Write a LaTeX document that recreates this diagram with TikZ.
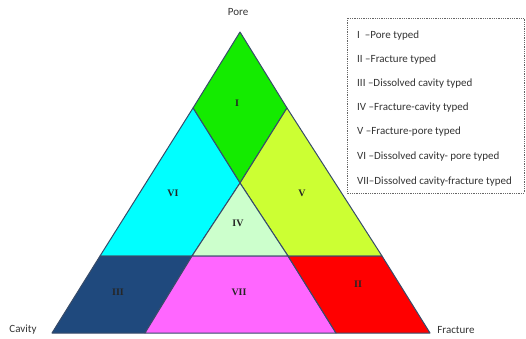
\documentclass[tikz,border=0pt]{standalone}
\usepackage{fontspec}
\setmainfont{Liberation Serif}
\newfontfamily\labelfont{Carlito}
\usetikzlibrary{positioning}
\definecolor{regionI}{RGB}{20,235,0}
\definecolor{regionII}{RGB}{255,0,0}
\definecolor{regionIII}{RGB}{31,73,125}
\definecolor{regionIV}{RGB}{204,255,204}
\definecolor{regionV}{RGB}{204,255,51}
\definecolor{regionVI}{RGB}{0,255,255}
\definecolor{regionVII}{RGB}{255,102,255}
\definecolor{edgecol}{RGB}{55,75,105}
\tikzset{
    region/.style={
        draw=edgecol,
        line width=1pt,
        line join=round
    },
    numeral/.style={
        font=\fontsize{10}{11}\selectfont\bfseries,
        text=black!85
    },
    corner/.style={
        font=\labelfont\fontsize{11}{12}\selectfont,
        text=black!80
    },
    legendtext/.style={
        anchor=west,
        inner sep=0pt,
        font=\labelfont\fontsize{11}{12}\selectfont,
        text=black!80
    },
    legendbox/.style={
        draw=black!60,
        densely dotted,
        line width=0.8pt
    }
}

\begin{document}
\begin{tikzpicture}[x=1pt,y=-1pt]

    \useasboundingbox (0,0) rectangle (526,338);

    % Corners of the triangle
    \coordinate (pore) at (240,32);
    \coordinate (cav) at (52,333);
    \coordinate (frac) at (430,333);

    % Points on the 25% lines
    \coordinate (lup) at (193,108);
    \coordinate (rup) at (287,108);
    \coordinate (mid) at (240,183);
    \coordinate (lmid) at (100,256);
    \coordinate (rmid) at (382,256);
    \coordinate (ilft) at (192,256);
    \coordinate (irgt) at (288,256);
    \coordinate (blft) at (145,333);
    \coordinate (brgt) at (336,333);

    % Regions
    \filldraw[region, fill=regionI] (pore) -- (lup) -- (mid) -- (rup) -- cycle;
    \filldraw[region, fill=regionVI] (lup) -- (mid) -- (ilft) -- (lmid) -- cycle;
    \filldraw[region, fill=regionV] (rup) -- (mid) -- (irgt) -- (rmid) -- cycle;
    \filldraw[region, fill=regionIV] (mid) -- (ilft) -- (irgt) -- cycle;
    \filldraw[region, fill=regionIII] (lmid) -- (ilft) -- (blft) -- (cav) -- cycle;
    \filldraw[region, fill=regionVII] (ilft) -- (irgt) -- (brgt) -- (blft) -- cycle;
    \filldraw[region, fill=regionII] (irgt) -- (rmid) -- (frac) -- (brgt) -- cycle;

    % Region numerals
    \node[numeral] (nI) at (237,103) {I};
    \node[numeral] (nII) at (358,284) {II};
    \node[numeral] (nIII) at (118,292) {III};
    \node[numeral] (nIV) at (238,223) {IV};
    \node[numeral] (nV) at (302,193) {V};
    \node[numeral] (nVI) at (173,193) {VI};
    \node[numeral] (nVII) at (239,292) {VII};

    % Corner labels
    \node[corner] (lpore) at (238,12) {Pore};
    \node[corner] (lcav) at (23,330) {Cavity};
    \node[corner] (lfrac) at (456,330) {Fracture};

    % Legend
    \draw[legendbox] (347,18) rectangle (524,193);
    \node[legendtext] (k1) at (357,36) {I~~–Pore typed};
    \node[legendtext] (k2) at (357,60) {II –Fracture typed};
    \node[legendtext] (k3) at (357,84) {III –Dissolved cavity typed};
    \node[legendtext] (k4) at (357,108) {IV –Fracture-cavity typed};
    \node[legendtext] (k5) at (357,132) {V –Fracture-pore typed};
    \node[legendtext] (k6) at (357,157) {VI –Dissolved cavity- pore typed};
    \node[legendtext] (k7) at (357,182) {VII–Dissolved cavity-fracture typed};

\end{tikzpicture}
\end{document}
